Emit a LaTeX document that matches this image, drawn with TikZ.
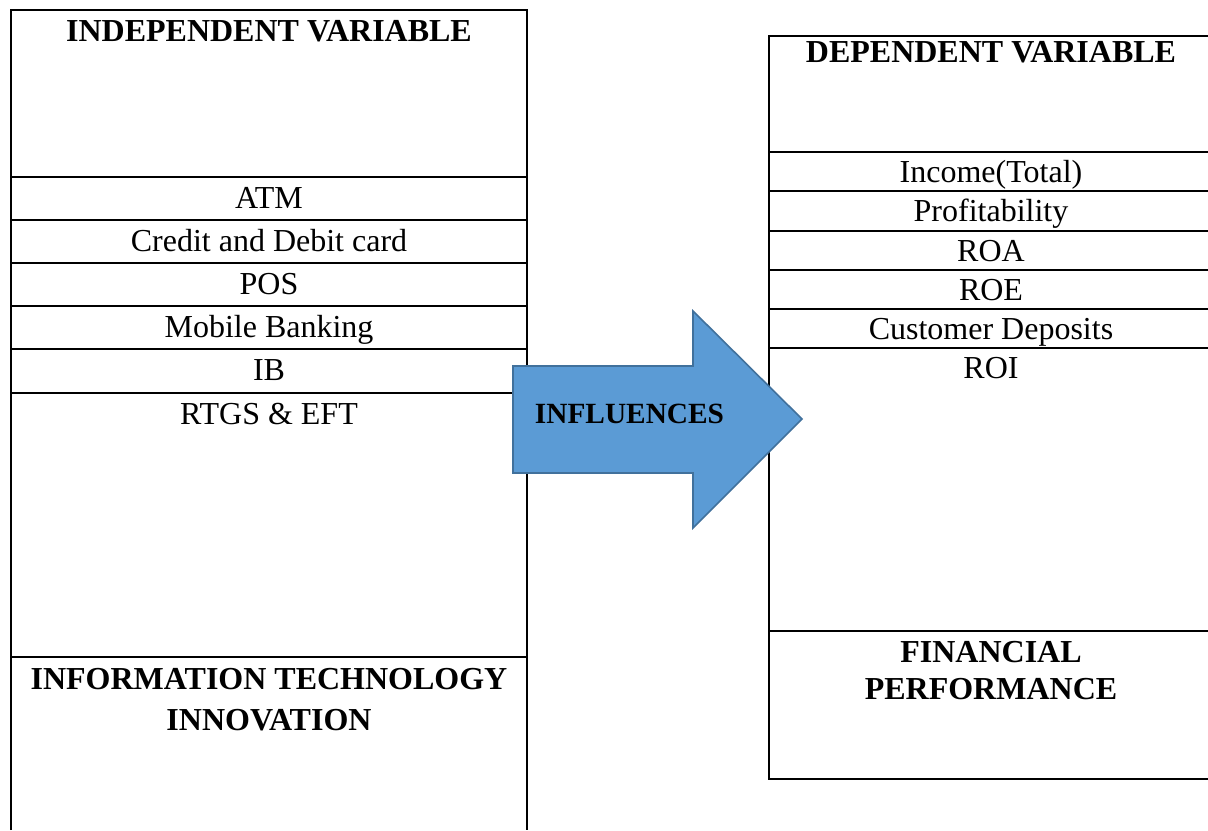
\documentclass[tikz,border=0pt]{standalone}
\usepackage{fontspec}
\setmainfont{Liberation Serif}
\definecolor{arrowfill}{HTML}{5B9BD5}
\definecolor{arrowedge}{HTML}{41719C}
\begin{document}
\begin{tikzpicture}[x=0.375pt,y=-0.375pt,
  rule/.style={line width=0.75pt,black},
  cell/.style={anchor=base,inner sep=0pt,font=\fontsize{12}{13.8}\selectfont},
  head/.style={anchor=base,inner sep=0pt,font=\fontsize{12}{13.8}\selectfont\bfseries},
  bigarrow/.style={fill=arrowfill,draw=arrowedge,line width=0.6pt,line join=miter}]
\useasboundingbox (0,0) rectangle (1208,830);
\fill[white] (0,0) rectangle (1208,830);

% independent variable table (open at the bottom)
\draw[rule] (11,830) -- (11,10) -- (527,10) -- (527,830);
\foreach \y in {177,220,263,306,349,393,657} \draw[rule] (11,\y) -- (527,\y);

\node[head] (indep) at (269,41)  {INDEPENDENT VARIABLE};
\node[cell] (atm)   at (269,208) {ATM};
\node[cell] (card)  at (269,251) {Credit and Debit card};
\node[cell] (pos)   at (269,294) {POS};
\node[cell] (mob)   at (269,337) {Mobile Banking};
\node[cell] (ib)    at (269,380) {IB};
\node[cell] (rtgs)  at (269,424) {RTGS \& EFT};
\node[head] (itiA)  at (269,689) {INFORMATION TECHNOLOGY};
\node[head] (itiB)  at (269,730) {INNOVATION};

% dependent variable table (runs past the right edge)
\draw[rule] (1208,36) -- (769,36) -- (769,779) -- (1208,779);
\foreach \y in {152,191,231,270,309,348,631} \draw[rule] (769,\y) -- (1208,\y);

\node[head] (dep)    at (991,62)  {DEPENDENT VARIABLE};
\node[cell] (income) at (991,182) {Income(Total)};
\node[cell] (profit) at (991,221) {Profitability};
\node[cell] (roa)    at (991,261) {ROA};
\node[cell] (roe)    at (991,300) {ROE};
\node[cell] (cdep)   at (991,339) {Customer Deposits};
\node[cell] (roi)    at (991,378) {ROI};
\node[head] (finA)   at (991,662) {FINANCIAL};
\node[head] (finB)   at (991,699) {PERFORMANCE};

% block arrow between the tables
\draw[bigarrow] (513,366) -- (693,366) -- (693,311) -- (802,419)
  -- (693,528) -- (693,473) -- (513,473) -- cycle;
\node[anchor=base,inner sep=0pt,font=\fontsize{11}{12.65}\selectfont\bfseries]
  (infl) at (629.5,423) {INFLUENCES};
\end{tikzpicture}
\end{document}
